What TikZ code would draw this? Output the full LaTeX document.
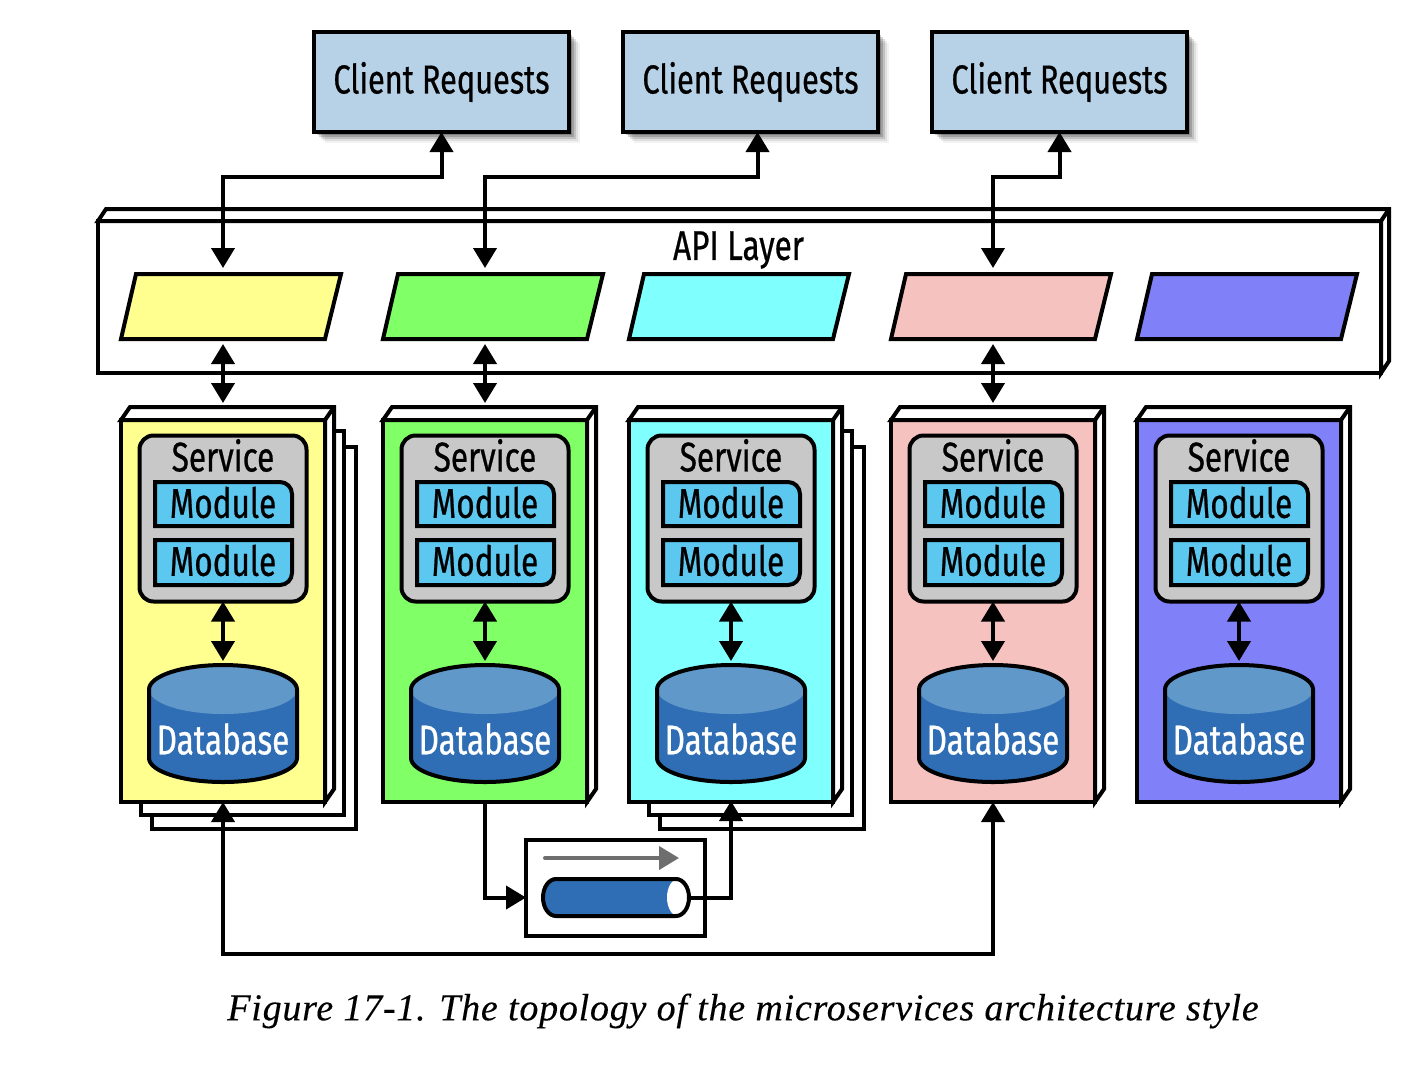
\documentclass[tikz,border=0pt]{standalone}
\usepackage{fontspec}
\setmainfont{Fira Sans}
\newfontfamily\labelfont[FakeStretch=0.76,FakeBold=0.6]{Fira Sans}
\newfontfamily\captionfont[LetterSpace=2,FakeBold=0.2]{Liberation Serif}
\usetikzlibrary{arrows.meta,shadows}
\definecolor{apiyellow}{HTML}{FFFF8F}
\definecolor{apigreen}{HTML}{80FF66}
\definecolor{apicyan}{HTML}{80FFFF}
\definecolor{apipink}{HTML}{F5C2C0}
\definecolor{apipurple}{HTML}{8080F8}
\definecolor{clientblue}{HTML}{B7D1E7}
\definecolor{moduleblue}{HTML}{5CC8F0}
\definecolor{servicegrey}{HTML}{C8C8C8}
\definecolor{dbdark}{HTML}{2F6EB5}
\definecolor{dblight}{HTML}{6098C9}
\definecolor{flowgrey}{HTML}{6E6E6E}
\tikzset{
  outline/.style={draw=black,line width=4pt},
  txt/.style={font=\labelfont\fontsize{41.5}{41.5}\selectfont,inner sep=0pt},
  softshadow/.style={general shadow={shadow xshift=3pt,shadow yshift=-3pt,fill=black,opacity=.2},
    general shadow={shadow xshift=5pt,shadow yshift=-5pt,fill=black,opacity=.17},
    general shadow={shadow xshift=7pt,shadow yshift=-7pt,fill=black,opacity=.13},
    general shadow={shadow xshift=9pt,shadow yshift=-9pt,fill=black,opacity=.08},
    general shadow={shadow xshift=11pt,shadow yshift=-11pt,fill=black,opacity=.05}},
  client/.style={outline,fill=clientblue,minimum width=255pt,minimum height=100pt,outer sep=0pt,
    font=\labelfont\fontsize{40.4}{40.4}\selectfont,inner sep=0pt,softshadow},
  holder/.style={inner sep=0pt,outer sep=0pt},
  column/.style={outline,minimum width=204pt,minimum height=382pt,inner sep=0pt,outer sep=0pt},
  sheet/.style={outline,fill=white},
  servicebox/.style={outline,fill=servicegrey,rounded corners=14pt,minimum width=167pt,minimum height=166pt,outer sep=0pt},
  modulebox/.style={outline,fill=moduleblue},
  onearrow/.style={line width=4pt,-{Triangle[length=20pt,width=23pt]}},
  twoarrow/.style={line width=4pt,{Triangle[length=20pt,width=23pt]}-{Triangle[length=20pt,width=23pt]}}
}
\begin{document}
\begin{tikzpicture}[x=1pt,y=-1pt]
\useasboundingbox[fill=white] (0,0) rectangle (1426,1080);

\node[client] (client1) at (441.5,82) {\raisebox{-2pt}{Client Requests}};
\node[client] (client2) at (750.5,82) {\raisebox{-2pt}{Client Requests}};
\node[client] (client3) at (1059.5,82) {\raisebox{-2pt}{Client Requests}};

\node[outline,fill=white,minimum width=1283pt,minimum height=152pt,outer sep=0pt] (api) at (739.5,297) {};
\draw[outline,fill=white] (api.north west) -- ++(8,-12) -- ++(1283,0) -- ++(0,152) -- (api.south east) -- (api.north east) -- (api.north west) -- cycle;
\draw[outline] (api.north east) -- ++(8,-12);
\node[txt] (apilabel) at (738.5,250) {API Layer};

\foreach \x in {223,731} {
  \draw[sheet] (\x-71,447) rectangle (\x+133,829);
  \draw[sheet] (\x-82,431) rectangle (\x+121,815);
}

\foreach \i/\x/\colr in {1/223/apiyellow,2/485/apigreen,3/731/apicyan,4/993/apipink,5/1239/apipurple} {
  \filldraw[outline,fill=\colr] (\x-102,339) -- (\x-87,274) -- (\x+118,274) -- (\x+102,339) -- cycle;
  \node[holder,minimum width=220pt,minimum height=66pt] (gate\i) at (\x+8,306) {};
  \node[column,fill=\colr] (col\i) at (\x,611) {};
  \draw[outline,fill=white] (col\i.north west) -- ++(9,-13) -- ++(204,0) -- ++(0,382) -- (col\i.south east) -- (col\i.north east) -- cycle;
  \draw[outline] (col\i.north east) -- ++(9,-13);
  \coordinate (coltop\i) at (\x,407);
  \node[servicebox] (svc\i) at (\x,518.5) {};
  \node[txt] (svclabel\i) at (\x,455.5) {Service};
  \filldraw[modulebox] (\x-68,526) -- (\x-68,482) -- (\x+20,482) [rounded corners=12pt] -- (\x+69,482) -- (\x+69,510) [sharp corners] -- (\x+69,526) -- cycle;
  \filldraw[modulebox] (\x-68,585) -- (\x-68,540) -- (\x+69,540) -- (\x+69,560) [rounded corners=12pt] -- (\x+69,585) -- (\x+20,585) [sharp corners] -- cycle;
  \node[txt] (modtop\i) at (\x,502.5) {Module};
  \node[txt] (modbot\i) at (\x,560.5) {Module};
  \fill[dbdark] (\x-74,689.5) -- (\x-74,758) arc[start angle=180,end angle=360,x radius=74pt,y radius=24pt] -- (\x+74,689.5) -- cycle;
  \fill[dblight] (\x,689.5) ellipse[x radius=74pt,y radius=24.5pt];
  \draw[outline] (\x-74,689.5) -- (\x-74,758) arc[start angle=180,end angle=360,x radius=74pt,y radius=24pt] -- (\x+74,689.5) arc[start angle=0,end angle=180,x radius=74pt,y radius=24.5pt] -- cycle;
  \node[holder,minimum width=149pt,minimum height=119pt] (db\i) at (\x,723.5) {};
  \node[txt,text=white] (dblabel\i) at (\x,739) {Database};
  \draw[twoarrow,shorten >=3pt] (svc\i.south) -- (db\i.north);
}
\foreach \i in {1,2,4} {
  \draw[twoarrow,shorten <=5pt,shorten >=4pt] (gate\i.south -| col\i.north) -- (coltop\i);
}

\draw[twoarrow,shorten >=5pt] (client1.south) |- (223,177) -- (gate1.north -| col1.north);
\draw[twoarrow,shorten >=5pt] ([xshift=7pt]client2.south) |- (485,177) -- (gate2.north -| col2.north);
\draw[twoarrow,shorten >=5pt] (client3.south) |- (993,177) -- (gate4.north -| col4.north);

\node[outline,fill=white,minimum width=179pt,minimum height=96pt,outer sep=0pt] (queue) at (615.5,887.5) {};
\fill[dbdark] (556,879) -- (680,879) -- (680,916) -- (556,916) arc[start angle=270,end angle=90,x radius=13pt,y radius=18.5pt] -- cycle;
\fill[white] (678,897.5) ellipse[x radius=11pt,y radius=18.5pt];
\draw[outline] (556,879) -- (676,879) arc[start angle=90,end angle=-90,x radius=13pt,y radius=18.5pt] -- (556,916) arc[start angle=270,end angle=90,x radius=13pt,y radius=18.5pt] -- cycle;
\node[holder,minimum width=150pt,minimum height=41pt] (pipe) at (616,897.5) {};
\coordinate (flowstart) at (545,858);
\coordinate (flowend) at (679,858);
\draw[onearrow,draw=flowgrey,fill=flowgrey,line cap=round] (flowstart) -- (flowend);

\draw[onearrow] (col2.south) |- (pipe.west -| queue.west);
\draw[onearrow,shorten >=-1pt] (pipe.east) -| (col3.south);
\coordinate (busline) at (600,954);
\draw[twoarrow] (col1.south) |- (busline) -| (col4.south);

\node[font=\captionfont\itshape\fontsize{38}{38}\selectfont,inner sep=0pt] (caption) at (743,1011) {Figure 17-1. The topology of the microservices architecture style};
\end{tikzpicture}
\end{document}
